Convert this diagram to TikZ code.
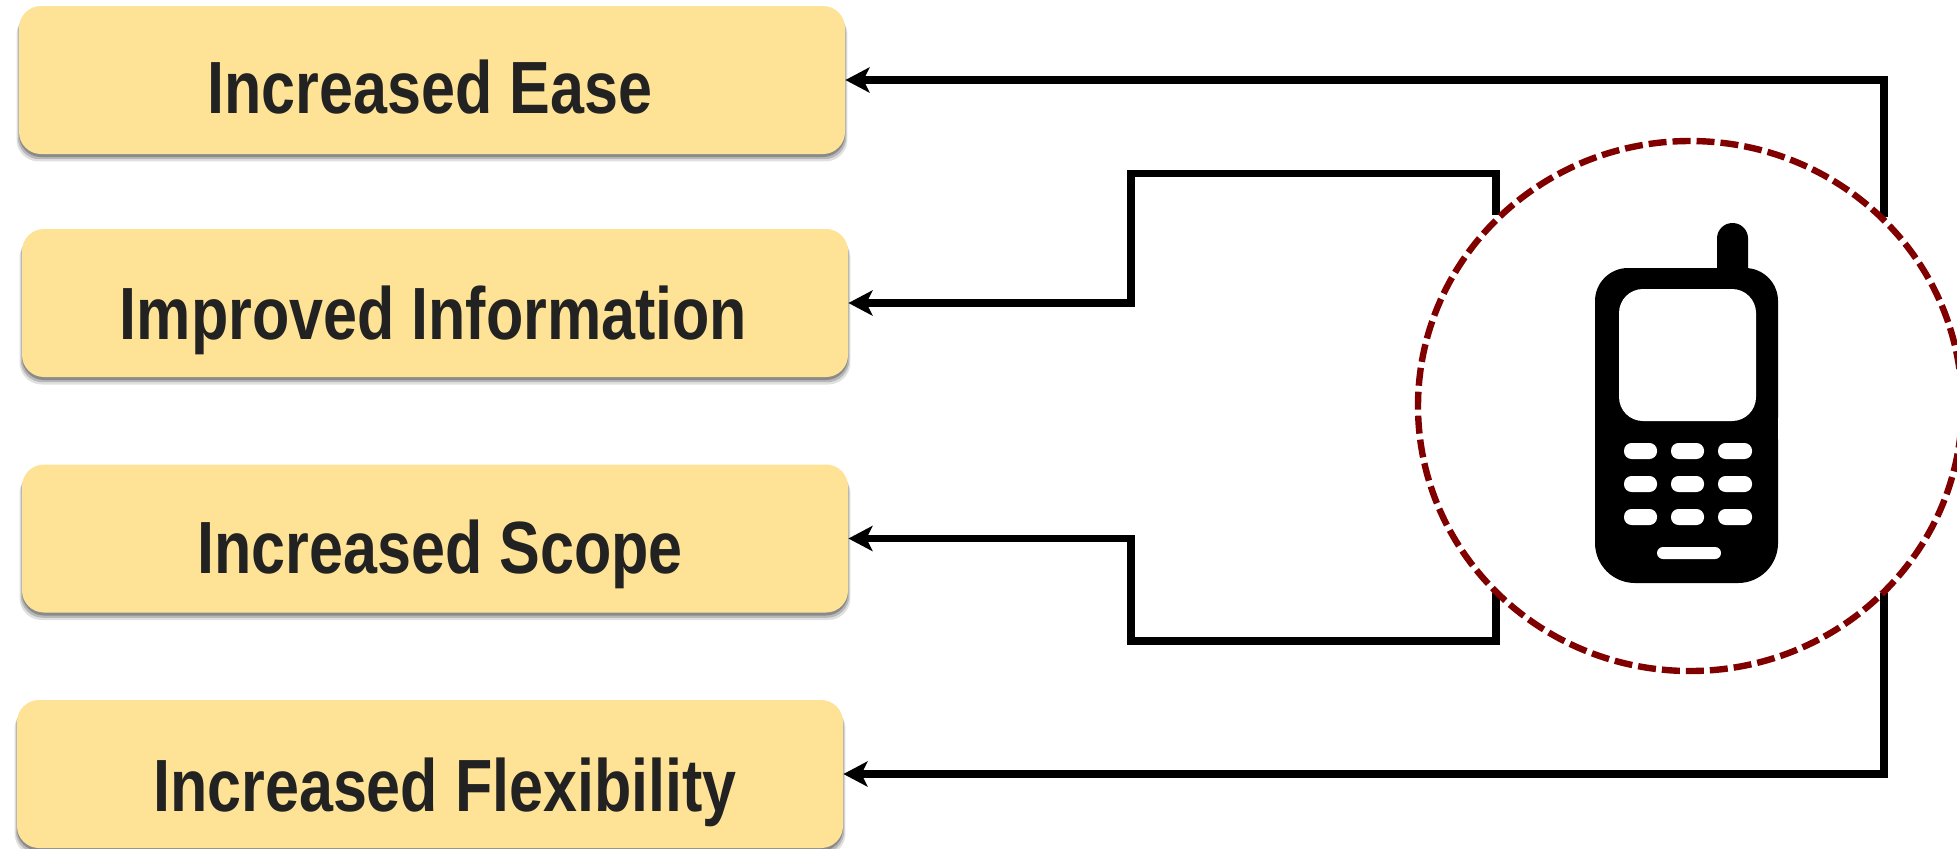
\documentclass[tikz,border=0pt]{standalone}
\usepackage{fontspec}
\setmainfont{Liberation Sans}
\newfontfamily\narrowbold[FakeStretch=0.825]{Liberation Sans Bold}
\usetikzlibrary{shadows,arrows.meta,shapes.geometric}
\definecolor{boxfill}{HTML}{FEE396}
\definecolor{ringred}{HTML}{800000}
\definecolor{labelink}{HTML}{222222}
\tikzset{
  boxnode/.style={rectangle,rounded corners=11pt,fill=boxfill,inner sep=0pt,minimum width=413pt,minimum height=74pt,
    drop shadow={shadow xshift=0pt,shadow yshift=-3.5pt,opacity=.12,fill=black,shadow scale=1.006},
    drop shadow={shadow xshift=0pt,shadow yshift=-2.5pt,opacity=.18,fill=black,shadow scale=1.003},
    drop shadow={shadow xshift=0pt,shadow yshift=-1.5pt,opacity=.25,fill=black}},
  labelnode/.style={anchor=base,inner sep=0pt,text=labelink,font=\narrowbold\fontsize{37pt}{37pt}\selectfont},
  link/.style={line width=3.9pt,miter limit=10,black},
  arrowlink/.style={link,-{Stealth[length=12pt,width=12.5pt,inset=3pt]}},
  keypad/.style={fill=white,rounded corners=3.8pt},
}
\begin{document}
\begin{tikzpicture}[x=0.5pt,y=-0.5pt]
\useasboundingbox (0,0) rectangle (1957,848);
\clip (0,0) rectangle (1957,848);
% boxes
\node[boxnode] (ease) at (432,80) {};
\node[boxnode] (info) at (435,303) {};
\node[boxnode] (scope) at (435,538.5) {};
\node[boxnode] (flex) at (430,774) {};
\node[labelnode] (easeT) at (430,113) {Increased Ease};
\node[labelnode] (infoT) at (433.5,339) {Improved Information};
\node[labelnode] (scopeT) at (440,573) {Increased Scope};
\node[labelnode] (flexT) at (445,811) {Increased Flexibility};
% connector free ends on the ring
\coordinate (a1) at (1884,217);
\coordinate (a2) at (1496,215);
\coordinate (a3) at (1496,593);
\coordinate (a4) at (1884,593);
\draw[arrowlink] (a1) -- (1884,80) -- (ease.east);
\draw[arrowlink] (a2) -- (1496,173.5) -- (1131,173.5) -- (1131,303) -- (info.east);
\draw[arrowlink] (a3) -- (1496,641) -- (1131,641) -- (1131,538.5) -- (scope.east);
\draw[arrowlink] (a4) -- (1884,774) -- (flex.east);
\draw[ringred,line width=3.2pt,dash pattern=on 9pt off 3pt] (1690,406) ellipse [x radius=272,y radius=265];
% phone
\fill[black,rounded corners=7.7pt] (1717,223) rectangle (1748,300);
\fill[black,rounded corners=16.5pt] (1595,268) rectangle (1778,450);
\fill[black,rounded corners=20pt] (1595,400) rectangle (1778,583);
\fill[black] (1595,320) rectangle (1778,530);
\fill[white,rounded corners=12pt] (1619,289) rectangle (1756,421);
\foreach \yy in {443,476,509}{
  \fill[keypad] (1624,\yy) rectangle (1657,\yy+16);
  \fill[keypad] (1671,\yy) rectangle (1704,\yy+16);
  \fill[keypad] (1718,\yy) rectangle (1752,\yy+16);
}
\fill[white,rounded corners=3pt] (1657,547) rectangle (1721,559);
\end{tikzpicture}
\end{document}
